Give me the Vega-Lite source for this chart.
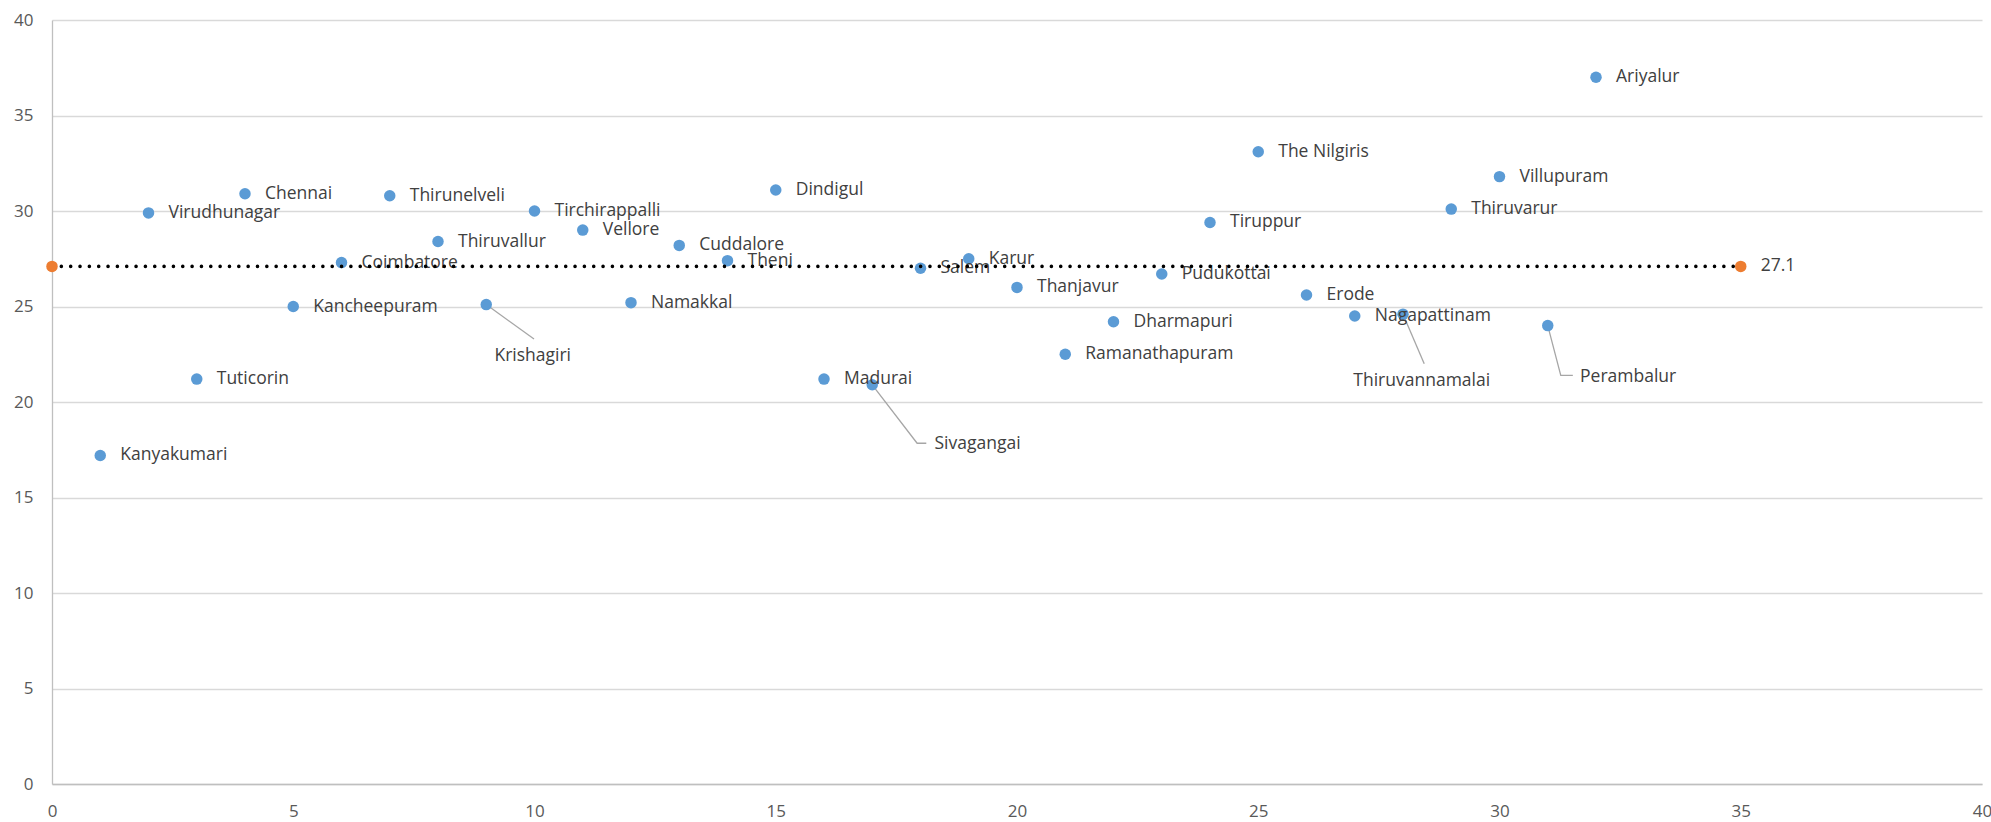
{
  "$schema": "https://vega.github.io/schema/vega-lite/v6.json",
  "width": 1930,
  "height": 764,
  "autosize": {"type": "none"},
  "padding": {"left": 52, "top": 20, "right": 9, "bottom": 38},
  "background": "white",
  "config": {
    "view": {"stroke": null},
    "font": "Open Sans",
    "axis": {
      "labelFont": "Open Sans",
      "labelFontSize": 17,
      "labelColor": "#595959",
      "labelPadding": 19,
      "ticks": false,
      "tickSize": 0,
      "tickCount": 8,
      "domainColor": "#BFBFBF",
      "domainWidth": 1.3,
      "labelFlush": false,
      "labelOverlap": false,
      "labelBound": false
    },
    "axisX": {"grid": false},
    "axisY": {"grid": true, "gridColor": "#D9D9D9", "gridWidth": 1.3}
  },
  "datasets": {
    "districts": [
      {"district": "Kanyakumari", "order": 1, "value": 17.2},
      {"district": "Virudhunagar", "order": 2, "value": 29.9},
      {"district": "Tuticorin", "order": 3, "value": 21.2},
      {"district": "Chennai", "order": 4, "value": 30.9},
      {"district": "Kancheepuram", "order": 5, "value": 25.0},
      {"district": "Coimbatore", "order": 6, "value": 27.3},
      {"district": "Thirunelveli", "order": 7, "value": 30.8},
      {"district": "Thiruvallur", "order": 8, "value": 28.4},
      {"district": "Krishagiri", "order": 9, "value": 25.1},
      {"district": "Tirchirappalli", "order": 10, "value": 30.0},
      {"district": "Vellore", "order": 11, "value": 29.0},
      {"district": "Namakkal", "order": 12, "value": 25.2},
      {"district": "Cuddalore", "order": 13, "value": 28.2},
      {"district": "Theni", "order": 14, "value": 27.4},
      {"district": "Dindigul", "order": 15, "value": 31.1},
      {"district": "Madurai", "order": 16, "value": 21.2},
      {"district": "Sivagangai", "order": 17, "value": 20.9},
      {"district": "Salem", "order": 18, "value": 27.0},
      {"district": "Karur", "order": 19, "value": 27.5},
      {"district": "Thanjavur", "order": 20, "value": 26.0},
      {"district": "Ramanathapuram", "order": 21, "value": 22.5},
      {"district": "Dharmapuri", "order": 22, "value": 24.2},
      {"district": "Pudukottai", "order": 23, "value": 26.7},
      {"district": "Tiruppur", "order": 24, "value": 29.4},
      {"district": "The Nilgiris", "order": 25, "value": 33.1},
      {"district": "Erode", "order": 26, "value": 25.6},
      {"district": "Nagapattinam", "order": 27, "value": 24.5},
      {"district": "Thiruvannamalai", "order": 28, "value": 24.6},
      {"district": "Thiruvarur", "order": 29, "value": 30.1},
      {"district": "Villupuram", "order": 30, "value": 31.8},
      {"district": "Perambalur", "order": 31, "value": 24.0},
      {"district": "Ariyalur", "order": 32, "value": 37.0}
    ],
    "callouts": [
      {"district": "Krishagiri", "order": 9.17, "value": 22.4},
      {"district": "Sivagangai", "order": 18.29, "value": 17.8},
      {"district": "Thiruvannamalai", "order": 26.97, "value": 21.1},
      {"district": "Perambalur", "order": 31.67, "value": 21.3}
    ],
    "leaders": [
      {"district": "Krishagiri", "step": 1, "order": 9, "value": 25.1},
      {"district": "Krishagiri", "step": 2, "order": 9.99, "value": 23.3},
      {"district": "Sivagangai", "step": 1, "order": 17, "value": 20.9},
      {"district": "Sivagangai", "step": 2, "order": 17.93, "value": 17.84},
      {"district": "Sivagangai", "step": 3, "order": 18.12, "value": 17.84},
      {"district": "Thiruvannamalai", "step": 1, "order": 28, "value": 24.6},
      {"district": "Thiruvannamalai", "step": 2, "order": 28.44, "value": 22.0},
      {"district": "Perambalur", "step": 1, "order": 31, "value": 24.0},
      {"district": "Perambalur", "step": 2, "order": 31.27, "value": 21.39},
      {"district": "Perambalur", "step": 3, "order": 31.52, "value": 21.39}
    ],
    "average": [
      {"order": 0, "value": 27.1},
      {"order": 35, "value": 27.1}
    ]
  },
  "layer": [
    {
      "data": {"name": "leaders"},
      "mark": {"type": "line", "color": "#A6A6A6", "strokeWidth": 1.3},
      "encoding": {
        "x": {"field": "order", "type": "quantitative", "title": null, "scale": {"domain": [0, 40], "nice": false, "zero": false}},
        "y": {"field": "value", "type": "quantitative", "title": null, "scale": {"domain": [0, 40], "nice": false, "zero": false}},
        "detail": {"field": "district"},
        "order": {"field": "step"}
      }
    },
    {
      "data": {"name": "districts"},
      "mark": {"type": "circle", "size": 132, "color": "#5B9BD5", "opacity": 1},
      "encoding": {
        "x": {"field": "order", "type": "quantitative", "title": null, "scale": {"domain": [0, 40], "nice": false, "zero": false}},
        "y": {"field": "value", "type": "quantitative", "title": null, "scale": {"domain": [0, 40], "nice": false, "zero": false}}
      }
    },
    {
      "data": {"name": "districts"},
      "transform": [
        {"filter": {"not": {"field": "district", "oneOf": ["Krishagiri", "Sivagangai", "Thiruvannamalai", "Perambalur"]}}}
      ],
      "mark": {"type": "text", "align": "left", "baseline": "middle", "dx": 20, "fontSize": 17.5, "font": "Open Sans", "color": "#404040"},
      "encoding": {
        "x": {"field": "order", "type": "quantitative", "title": null, "scale": {"domain": [0, 40], "nice": false, "zero": false}},
        "y": {"field": "value", "type": "quantitative", "title": null, "scale": {"domain": [0, 40], "nice": false, "zero": false}},
        "text": {"field": "district"}
      }
    },
    {
      "data": {"name": "callouts"},
      "mark": {"type": "text", "align": "left", "baseline": "middle", "fontSize": 17.5, "font": "Open Sans", "color": "#404040"},
      "encoding": {
        "x": {"field": "order", "type": "quantitative", "title": null, "scale": {"domain": [0, 40], "nice": false, "zero": false}},
        "y": {"field": "value", "type": "quantitative", "title": null, "scale": {"domain": [0, 40], "nice": false, "zero": false}},
        "text": {"field": "district"}
      }
    },
    {
      "data": {"name": "average"},
      "mark": {"type": "line", "color": "#000000", "strokeWidth": 3.6, "strokeCap": "round", "strokeDash": [0.01, 9.33]},
      "encoding": {
        "x": {"field": "order", "type": "quantitative", "title": null, "scale": {"domain": [0, 40], "nice": false, "zero": false}},
        "y": {"field": "value", "type": "quantitative", "title": null, "scale": {"domain": [0, 40], "nice": false, "zero": false}}
      }
    },
    {
      "data": {"name": "average"},
      "mark": {"type": "circle", "size": 132, "color": "#ED7D31", "opacity": 1},
      "encoding": {
        "x": {"field": "order", "type": "quantitative", "title": null, "scale": {"domain": [0, 40], "nice": false, "zero": false}},
        "y": {"field": "value", "type": "quantitative", "title": null, "scale": {"domain": [0, 40], "nice": false, "zero": false}}
      }
    },
    {
      "data": {"name": "average"},
      "transform": [{"filter": "datum.order == 35"}],
      "mark": {"type": "text", "align": "left", "baseline": "middle", "dx": 20, "fontSize": 17.5, "font": "Open Sans", "color": "#404040"},
      "encoding": {
        "x": {"field": "order", "type": "quantitative", "title": null, "scale": {"domain": [0, 40], "nice": false, "zero": false}},
        "y": {"field": "value", "type": "quantitative", "title": null, "scale": {"domain": [0, 40], "nice": false, "zero": false}},
        "text": {"field": "value", "type": "quantitative", "format": ".1f"}
      }
    }
  ]
}
